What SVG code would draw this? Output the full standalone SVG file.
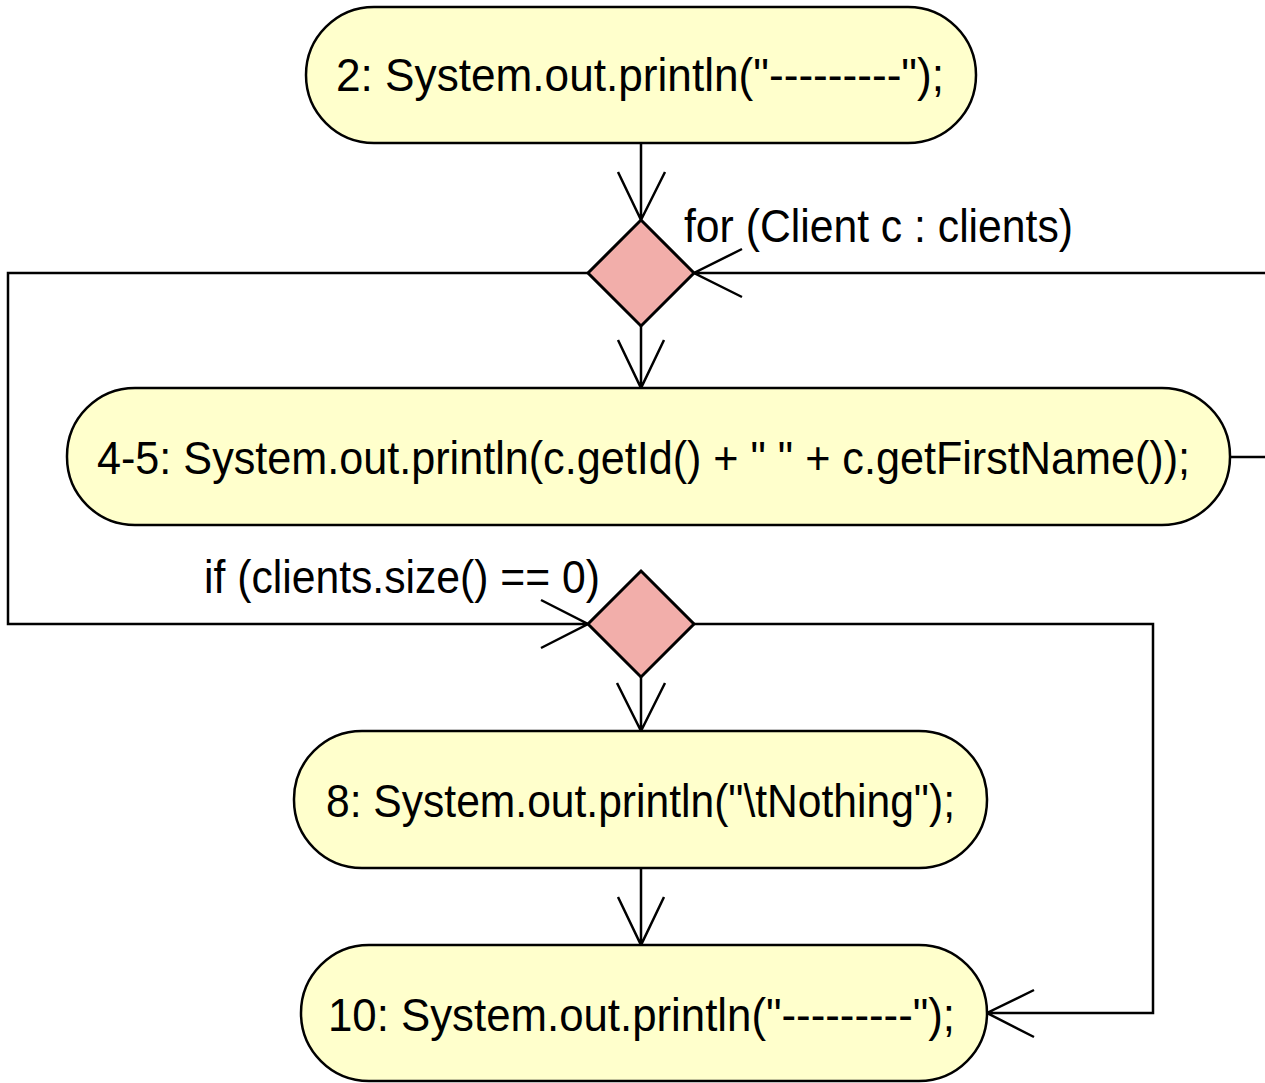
<svg xmlns="http://www.w3.org/2000/svg" width="1265" height="1083" viewBox="0 0 1265 1083">
<style>
.node{fill:#FFFFCC;stroke:#000;stroke-width:2.5}
.dec{fill:#F2AEAA;stroke:#000;stroke-width:3}
.edge{fill:none;stroke:#000;stroke-width:2.5}
.t{font-family:"Liberation Sans",Arial,sans-serif;font-size:46px;fill:#000}
</style>
<rect width="1265" height="1083" fill="#fff"/>
<g id="connectors">
<path class="edge" d="M641 143V220M618 172L641 220L665 172"/>
<path class="edge" d="M641 326V388M618 340L641 388L664 340"/>
<path class="edge" d="M588 273H8V624H588M541 600L588 624L541 648"/>
<path class="edge" d="M1230 457H1270M1270 273H694M742 249L694 273L742 297"/>
<path class="edge" d="M641 677V731M617 683L641 731L665 683"/>
<path class="edge" d="M694 624H1153V1013H987M1034 990L987 1013L1034 1037"/>
<path class="edge" d="M641 868V945M618 897L641 945L664 897"/>
<text class="t" x="684" y="242" textLength="389" lengthAdjust="spacingAndGlyphs">for (Client c : clients)</text>
<text class="t" x="204" y="593" textLength="396" lengthAdjust="spacingAndGlyphs">if (clients.size() == 0)</text>
</g>
<g id="n2">
<rect class="node" x="306" y="7" width="670" height="136" rx="68"/>
<text class="t" x="336" y="91" textLength="608" lengthAdjust="spacingAndGlyphs">2: System.out.println("---------");</text>
</g>
<g id="d1"><path class="dec" d="M641 220L694 273L641 326L588 273Z"/></g>
<g id="n45">
<rect class="node" x="67" y="388" width="1163" height="137" rx="68"/>
<text class="t" x="97" y="474" textLength="1093" lengthAdjust="spacingAndGlyphs">4-5: System.out.println(c.getId() + " " + c.getFirstName());</text>
</g>
<g id="d2"><path class="dec" d="M641 571L694 624L641 677L588 624Z"/></g>
<g id="n8">
<rect class="node" x="294" y="731" width="693" height="137" rx="68"/>
<text class="t" x="326" y="817" textLength="629" lengthAdjust="spacingAndGlyphs">8: System.out.println("\tNothing");</text>
</g>
<g id="n10">
<rect class="node" x="301" y="945" width="686" height="136" rx="68"/>
<text class="t" x="328" y="1031" textLength="627" lengthAdjust="spacingAndGlyphs">10: System.out.println("---------");</text>
</g>
</svg>
